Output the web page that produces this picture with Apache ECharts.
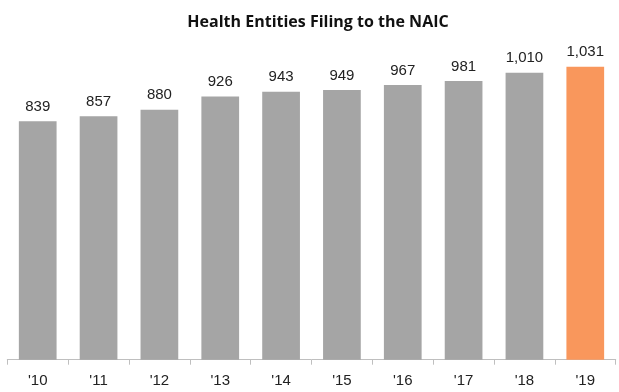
<!DOCTYPE html>
<html>
<head>
<meta charset="utf-8">
<script src="https://cdn.jsdelivr.net/npm/echarts@6/dist/echarts.min.js"></script>
<style>
  html, body { margin: 0; padding: 0; background: #fff; }
  #chart { width: 619px; height: 392px; }
</style>
</head>
<body>
<div id="chart"></div>
<script>
// Health entities filing with the NAIC, by year
const years = ["'10", "'11", "'12", "'13", "'14", "'15", "'16", "'17", "'18", "'19"];
const filings = [839, 857, 880, 926, 943, 949, 967, 981, 1010, 1031];
const highlightIndex = 9;

const GRAY = '#a5a5a5';
const ORANGE = '#f9975c';

const chart = echarts.init(document.getElementById('chart'), null, { renderer: 'canvas' });

chart.setOption({
  animation: false,
  backgroundColor: '#ffffff',
  title: {
    text: 'Health Entities Filing to the NAIC',
    left: 313,
    textAlign: 'center',
    top: 9,
    textStyle: {
      fontFamily: 'Open Sans',
      fontWeight: 'bold',
      fontSize: 16,
      color: '#111'
    }
  },
  grid: { left: 7.3, right: 3.3, top: 18.7, bottom: 32.3, containLabel: false },
  xAxis: {
    type: 'category',
    data: years,
    axisLine: { show: true, lineStyle: { color: '#bfbfbf', width: 1 } },
    axisTick: { show: true, length: 5, alignWithLabel: false, lineStyle: { color: '#bfbfbf' } },
    axisLabel: {
      margin: 14,
      fontFamily: 'Liberation Sans',
      fontSize: 15,
      color: '#222'
    }
  },
  yAxis: {
    type: 'value',
    min: 0,
    max: 1200,
    show: false,
    splitLine: { show: false }
  },
  series: [{
    type: 'bar',
    barCategoryGap: '38%',
    data: filings.map((v, i) => ({
      value: v,
      itemStyle: { color: i === highlightIndex ? ORANGE : GRAY }
    })),
    label: {
      show: true,
      position: 'top',
      distance: 7,
      fontFamily: 'Liberation Sans',
      fontSize: 15,
      color: '#222',
      formatter: p => p.value.toLocaleString('en-US')
    }
  }]
});
</script>
</body>
</html>
